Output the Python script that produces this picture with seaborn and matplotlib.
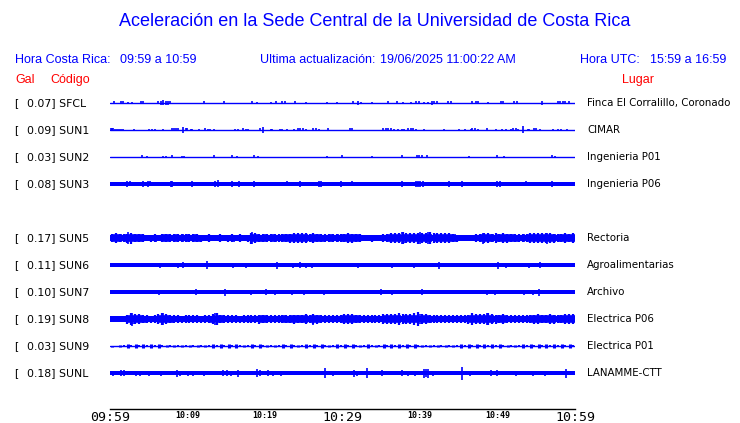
import numpy as np
import pandas as pd
import matplotlib
matplotlib.use("Agg")
import matplotlib.pyplot as plt
import seaborn as sns

# ---------------- data ----------------
stations = ["SFCL", "SUN1", "SUN2", "SUN3", "SUN5", "SUN6", "SUN7", "SUN8", "SUN9", "SUNL"]
gal_values = [0.07, 0.09, 0.03, 0.08, 0.17, 0.11, 0.10, 0.19, 0.03, 0.18]
places = ["Finca El Corralillo, Coronado", "CIMAR", "Ingenieria P01", "Ingenieria P06",
          "Rectoria", "Agroalimentarias", "Archivo", "Electrica P06", "Electrica P01",
          "LANAMME-CTT"]

minutes = np.arange(61)            # 09:59 ... 10:59, one bin per minute
half_minutes = np.arange(120) * 0.5 + 0.25   # centres of 30-s bins
tick_minutes = np.arange(0, 61, 5)
tick_labels = ["09:59", "", "10:09", "", "10:19", "", "10:29", "", "10:39", "", "10:49", "", "10:59"]

# solid band half-thickness (screen px) per station
band_half = {"SFCL": 0.5, "SUN1": 0.5, "SUN2": 0.5, "SUN3": 1.8, "SUN5": 3.2, "SUN6": 1.8,
             "SUN7": 1.8, "SUN8": 3.0, "SUN9": 0.5, "SUNL": 1.8}

# 30-s peak envelope for the noisy stations (half-amplitude, px)
peak_sun5 = [4.0, 4.6, 4.3, 4.0, 4.5, 5.5, 4.2, 4.4, 3.6, 3.3, 3.5, 3.8, 3.4, 3.9, 4.0, 3.6, 4.1, 3.7, 3.9, 4.2,
             3.6, 4.0, 3.8, 3.5, 3.3, 3.6, 3.4, 3.3, 3.7, 3.3, 3.5, 3.8, 3.3, 3.6, 3.4, 3.5, 5.5, 5.0, 3.8, 4.0,
             3.6, 4.1, 3.8, 3.6, 4.0, 3.9, 4.5, 5.0, 4.7, 5.2, 4.9, 4.4, 4.6, 4.0, 3.8, 3.6, 4.0, 3.7, 3.9, 4.2,
             4.4, 4.6, 4.5, 4.1, 3.6, 3.4, 3.3, 3.5, 3.4, 3.3, 3.6, 4.2, 4.8, 5.2, 5.0, 5.8, 5.3, 4.9, 5.0, 5.5,
             5.4, 5.0, 5.6, 4.8, 4.9, 5.2, 4.6, 4.8, 4.0, 3.5, 3.3, 3.4, 3.4, 3.3, 3.6, 4.2, 4.6, 5.0, 4.4, 4.7,
             4.3, 4.6, 4.5, 4.2, 3.8, 3.6, 3.9, 4.0, 4.8, 5.0, 5.2, 4.8, 5.4, 4.9, 4.5, 4.2, 4.3, 4.6, 4.4, 4.8]
peak_sun8 = [2.8, 3.2, 3.0, 3.4, 4.5, 6.0, 5.0, 4.6, 4.0, 3.6, 3.5, 3.8, 4.8, 5.8, 4.6, 4.0, 3.6, 3.8, 3.5, 3.9,
             3.7, 3.6, 3.8, 3.5, 3.6, 4.0, 5.0, 5.8, 4.2, 3.7, 3.6, 3.8, 3.7, 3.5, 3.9, 3.6, 3.7, 3.8, 4.5, 4.2,
             3.8, 3.7, 3.9, 3.6, 4.4, 4.0, 4.2, 4.5, 4.4, 4.1, 4.6, 4.3, 5.2, 4.5, 3.9, 3.7, 3.8, 3.6, 3.9, 4.2,
             4.8, 5.2, 4.6, 4.3, 3.8, 3.7, 3.6, 3.9, 3.7, 3.8, 4.6, 5.0, 5.3, 4.9, 5.8, 5.0, 5.2, 5.4, 5.6, 6.8,
             5.2, 4.8, 4.0, 3.8, 3.7, 3.6, 3.8, 3.6, 3.7, 3.9, 3.6, 3.8, 4.5, 5.8, 4.8, 4.6, 4.6, 5.8, 4.7, 4.5,
             4.4, 4.6, 3.9, 3.7, 3.8, 3.6, 3.7, 3.9, 4.2, 4.5, 4.8, 4.4, 4.3, 4.6, 4.5, 4.2, 4.3, 4.6, 4.8, 5.0]
# per-minute activity of the thin SUN9 trace (half-amplitude, px)
peak_sun9 = [0.5, 0.8, 1.7, 1.8, 1.8, 1.7, 1.6, 1.3, 0.9, 1.1, 0.9, 0.8, 0.9, 1.7, 1.8, 1.7, 1.6, 0.8, 1.6, 1.7,
             1.3, 0.9, 1.6, 1.6, 0.8, 1.6, 1.7, 1.6, 1.3, 1.6, 1.7, 1.7, 1.3, 1.6, 0.9, 1.7, 1.8, 1.7, 1.6, 1.6,
             1.3, 0.7, 0.7, 0.9, 0.7, 1.6, 1.7, 1.8, 1.7, 1.7, 1.6, 0.8, 0.7, 1.6, 1.7, 1.7, 1.8, 1.7, 1.7, 1.6]

# spikes: times (minutes after 09:59) and half-heights (px)
spike_t_sfcl = [0.5, 1.4, 1.7, 2.3, 2.8, 4.0, 4.3, 6.2, 6.6, 6.9, 7.2, 7.5, 7.7, 12.1, 14.7, 18.3, 19.0, 20.8,
                21.4, 22.2, 22.6, 23.9, 25.3, 28.0, 29.3, 31.4, 32.0, 32.4, 33.8, 35.9, 37.0, 37.8, 38.8, 39.5,
                39.9, 40.5, 41.0, 41.5, 41.8, 42.2, 43.6, 44.0, 46.7, 47.2, 47.5, 48.8, 50.5, 50.7, 52.1, 52.5,
                55.7, 57.8, 58.1, 58.5, 58.7, 59.2]
spike_h_sfcl = [1.5, 1.5, 1.5, 1.2, 1.0, 1.5, 1.5, 1.5, 2.0, 2.5, 2.0, 2.0, 1.5, 1.5, 1.5, 1.5, 1.0, 1.0,
                1.5, 1.5, 1.5, 1.5, 1.0, 1.0, 1.0, 1.5, 2.0, 1.0, 1.0, 1.5, 1.5, 1.0, 1.0, 1.5,
                1.5, 1.0, 1.0, 2.0, 1.5, 1.5, 1.5, 1.5, 1.5, 1.5, 1.5, 1.0, 1.5, 1.5, 1.5, 1.5,
                2.0, 1.5, 1.5, 1.5, 1.5, 1.5]
spike_t_sun1 = [0.1, 0.3, 0.4, 0.6, 0.9, 1.2, 1.4, 1.7, 3.1, 5.0, 5.4, 5.8, 6.8, 8.0, 8.3, 8.5, 8.8, 9.4, 9.8,
                9.9, 10.5, 10.6, 11.5, 12.3, 12.6, 12.9, 13.4, 16.1, 16.5, 17.2, 17.5, 17.8, 19.4, 19.7, 20.8,
                20.9, 21.9, 22.2, 22.8, 23.7, 24.3, 24.5, 24.9, 25.3, 26.2, 26.6, 27.0, 28.1, 31.0, 31.2, 35.2,
                35.6, 35.9, 36.3, 36.6, 37.2, 37.7, 37.9, 38.5, 38.8, 39.1, 39.5, 40.5, 43.1, 45.0, 45.8, 46.6,
                46.7, 47.1, 47.5, 48.6, 49.8, 50.6, 51.1, 51.7, 52.0, 52.4, 52.6, 53.3, 53.9, 54.1, 54.7, 55.0,
                55.5, 57.2, 57.8, 58.2, 59.0]
spike_h_sun1 = [1.5, 1.5, 1.5, 1.0, 1.0, 1.0, 1.0, 1.0, 0.8, 1.0, 1.0, 1.0, 0.8, 1.5, 1.5, 1.5, 1.5, 3.0, 1.5,
                1.5, 1.0, 1.0, 1.0, 1.5, 1.0, 1.0, 1.0, 1.0, 1.0, 1.5, 1.0, 1.0, 1.5, 3.0, 1.0,
                1.0, 1.0, 1.0, 1.0, 1.0, 1.5, 1.5, 1.5, 1.0, 1.5, 1.5, 1.0, 1.5, 1.5, 1.5, 1.5,
                1.5, 1.5, 1.5, 1.0, 1.0, 1.0, 1.0, 1.5, 1.5, 1.5, 1.0, 1.0, 0.8, 1.0, 1.0, 0.8,
                1.5, 1.5, 1.0, 1.5, 1.0, 1.0, 1.0, 1.0, 1.5, 1.5, 1.0, 3.5, 1.0, 1.0, 1.5, 1.5,
                1.0, 1.0, 1.0, 1.0, 0.8]
spike_t_sun2 = [4.1, 4.8, 6.8, 7.2, 8.0, 9.3, 9.5, 13.4, 15.7, 16.4, 18.6, 19.1, 28.0, 29.9, 33.8, 37.7, 39.6,
                39.9, 40.3, 40.9, 46.3, 49.9, 50.8, 57.0, 57.4]
spike_h_sun2 = [1.5, 1.0, 1.0, 1.0, 1.5, 1.0, 1.0, 1.5, 1.5, 1.0, 1.5, 1.0, 1.0, 1.5, 1.0, 1.5, 1.5,
                1.5, 1.5, 1.5, 1.0, 1.5, 1.0, 1.5, 1.0]
spike_t_sun3 = [2.2, 2.6, 4.3, 4.9, 5.2, 7.9, 8.0, 10.6, 13.5, 13.9, 15.7, 16.6, 18.6, 22.8, 24.5, 27.0, 27.2,
                29.8, 31.2, 37.7, 39.5, 39.7, 40.0, 40.4, 43.7, 45.4, 49.9, 50.3, 53.7, 57.0]
spike_h_sun3 = [3.0, 2.5, 3.2, 3.0, 2.5, 3.0, 3.0, 3.0, 3.0, 3.5, 3.0, 3.0, 3.0, 2.5, 3.0, 3.0, 3.0,
                3.0, 2.5, 3.2, 3.2, 3.2, 3.0, 3.0, 3.0, 3.0, 3.2, 3.0, 2.5, 3.2]
spike_t_sun5 = [2.3, 18.3, 37.7, 40.0, 41.0, 48.1, 56.4]
spike_h_sun5 = [6.0, 6.0, 6.0, 5.8, 5.8, 5.5, 5.5]
spike_t_sun6 = [6.5, 8.8, 9.4, 12.5, 15.9, 17.5, 21.5, 23.6, 24.5, 25.3, 26.1, 32.0, 36.4, 39.2, 42.5, 50.1,
                51.1, 54.1, 55.5]
spike_h_sun6 = [2.5, 2.5, 3.0, 4.0, 2.5, 2.5, 3.5, 2.5, 3.0, 2.5, 2.5, 2.5, 2.5, 2.5, 3.5, 3.5,
                2.5, 2.5, 3.0]
spike_t_sun7 = [6.3, 11.1, 14.8, 18.2, 20.1, 21.3, 23.5, 25.0, 27.6, 35.0, 36.4, 40.3, 48.6, 49.7, 53.4, 54.6,
                55.4]
spike_h_sun7 = [2.5, 3.0, 3.5, 2.5, 3.0, 2.5, 2.5, 2.5, 2.5, 3.0, 2.5, 3.0, 2.5, 2.5, 2.5, 2.5, 3.5]
spike_t_sun8 = [2.8, 6.9, 13.5, 26.2, 39.7, 46.7, 48.6]
spike_h_sun8 = [6.5, 6.0, 6.0, 5.5, 7.0, 6.0, 6.0]
spike_t_sunl = [0.4, 1.4, 1.8, 3.4, 3.9, 5.0, 6.6, 8.6, 9.0, 10.1, 10.7, 12.1, 14.6, 15.1, 15.6, 16.5, 19.0,
                19.4, 20.4, 21.0, 22.1, 27.7, 28.8, 31.5, 31.9, 33.2, 35.1, 37.7, 38.5, 39.4, 40.5, 40.8, 41.0,
                41.7, 45.4, 46.5, 49.2, 49.9, 52.4, 54.6, 56.1, 58.8]
spike_h_sunl = [2.5, 3.0, 3.0, 2.5, 2.5, 2.5, 2.5, 3.5, 2.5, 2.5, 2.5, 2.5, 3.0, 3.0, 2.5, 3.5, 4.0,
                3.0, 3.0, 2.5, 2.5, 5.0, 2.5, 3.5, 2.5, 5.0, 3.0, 3.0, 2.5, 2.5, 4.5, 4.0, 4.5,
                2.5, 6.5, 2.5, 3.0, 3.0, 2.5, 2.5, 2.5, 4.5]

peaks_30s = {"SUN5": peak_sun5, "SUN8": peak_sun8}
activity_1min = {"SUN9": peak_sun9}
spikes = {"SFCL": (spike_t_sfcl, spike_h_sfcl), "SUN1": (spike_t_sun1, spike_h_sun1),
          "SUN2": (spike_t_sun2, spike_h_sun2), "SUN3": (spike_t_sun3, spike_h_sun3),
          "SUN5": (spike_t_sun5, spike_h_sun5), "SUN6": (spike_t_sun6, spike_h_sun6),
          "SUN7": (spike_t_sun7, spike_h_sun7), "SUN8": (spike_t_sun8, spike_h_sun8),
          "SUNL": (spike_t_sunl, spike_h_sunl)}

# ---------------- layout ----------------
W, H = 740, 423
row_y = [103, 130, 157, 184, 238, 265, 292, 319, 346, 373]  # trace rows (px from top)
BLUE = "#0000ff"
RED = "#ff0000"

sns.set_style("white")
plt.rcParams["font.family"] = ["DejaVu Sans"]

fig = plt.figure(figsize=(W / 100, H / 100), dpi=100)
ax = fig.add_axes([110 / W, 14 / H, 465 / W, 409 / H])
ax.set_xlim(minutes[0], minutes[-1])
ax.set_ylim(409, 0)

for i, st in enumerate(stations):
    y0 = row_y[i]
    b = band_half[st]
    line_df = pd.DataFrame({"minute": [minutes[0], minutes[-1]], "row": [y0, y0]})
    sns.lineplot(data=line_df, x="minute", y="row", ax=ax, color=BLUE, lw=1.0)
    if b > 0.6:
        ax.fill_between([minutes[0], minutes[-1]], y0 - b, y0 + b, color=BLUE, lw=0)
    if st in peaks_30s:
        pk = np.asarray(peaks_30s[st])
        ax.vlines(half_minutes, y0 - pk, y0 + pk, color=BLUE, lw=1.6)
        ax.vlines(half_minutes + 0.22, y0 - 0.5 * (pk + b), y0 + 0.5 * (pk + b), color=BLUE, lw=1.2)
    if st in activity_1min:
        act = np.asarray(activity_1min[st])
        ax.vlines(minutes[:-1] + 0.3, y0 - act, y0 + act, color=BLUE, lw=2.2)
        ax.vlines(minutes[:-1] + 0.75, y0 - 0.8 * act, y0 + 0.8 * act, color=BLUE, lw=1.4)
    if st in spikes:
        ts, hs = spikes[st]
        hs = np.asarray(hs)
        ax.vlines(ts, y0 - hs, y0 + hs, color=BLUE, lw=1.2)

ax.set_xlabel("")
ax.set_ylabel("")
ax.set_yticks([])
ax.set_xticks(tick_minutes)
ax.set_xticklabels(tick_labels)
for s in ["top", "right", "left"]:
    ax.spines[s].set_visible(False)
ax.spines["bottom"].set_color("black")
ax.spines["bottom"].set_linewidth(1.0)
ax.tick_params(axis="x", direction="in", length=6.6, width=1.0, pad=1.5, colors="black")
for lab in ax.get_xticklabels():
    txt = lab.get_text()
    lab.set_family("DejaVu Sans Mono")
    if txt in ("09:59", "10:29", "10:59"):
        lab.set_fontsize(9.5)
    else:
        lab.set_fontsize(6)
        lab.set_fontweight("bold")


def ptext(x, y, s, **kw):
    kw.setdefault("va", "center")
    fig.text(x / W, 1 - y / H, s, **kw)


sans = ["Liberation Sans", "DejaVu Sans"]
ptext(375, 22, "Aceleración en la Sede Central de la Universidad de Costa Rica",
      ha="center", color=BLUE, fontsize=13, family=sans)
ptext(15, 60, "Hora Costa Rica:", color=BLUE, fontsize=9, family=sans)
ptext(120, 60, "09:59 a 10:59", color=BLUE, fontsize=9, family=sans)
ptext(260, 60, "Ultima actualización:", color=BLUE, fontsize=9, family=sans)
ptext(380, 60, "19/06/2025 11:00:22 AM", color=BLUE, fontsize=9, family=sans)
ptext(580, 60, "Hora UTC:", color=BLUE, fontsize=9, family=sans)
ptext(650, 60, "15:59 a 16:59", color=BLUE, fontsize=9, family=sans)
ptext(15, 80, "Gal", color=RED, fontsize=9, family=sans)
ptext(50, 80, "Código", color=RED, fontsize=9, family=sans)
ptext(622, 80, "Lugar", color=RED, fontsize=9, family=sans)

for i, st in enumerate(stations):
    y0 = row_y[i]
    ptext(14, y0, "[", color="black", fontsize=7.8)
    ptext(27, y0, f"{gal_values[i]:.2f}] {st}", color="black", fontsize=7.8)
    ptext(587, y0, places[i], color="black", fontsize=8.2, fontstretch="condensed")

fig.savefig("out.png", dpi=100)
